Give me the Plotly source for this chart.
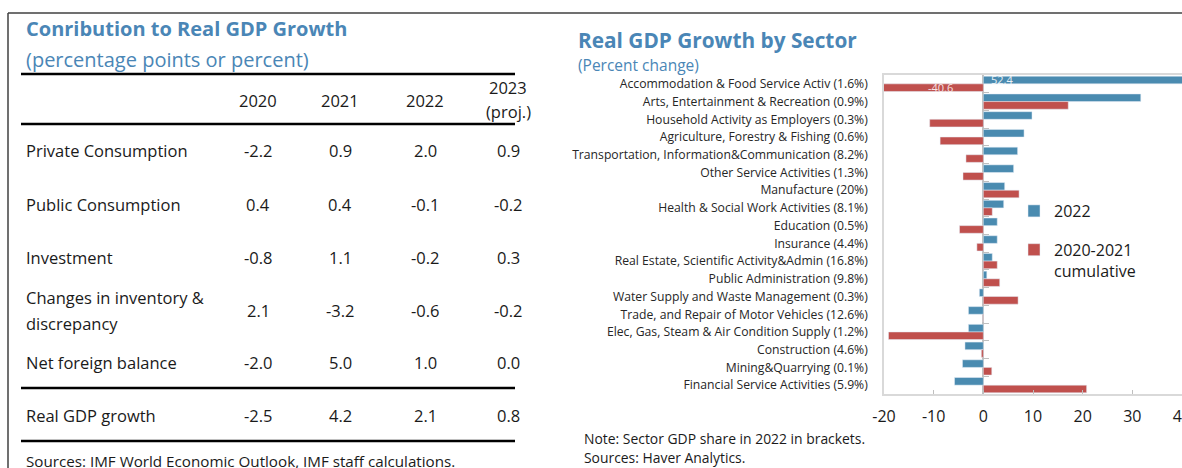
import plotly.graph_objects as go

W, H = 1182, 468

# ---- left table data
table_years = ["2020", "2021", "2022", "2023"]
table_rows = [["Private Consumption"], ["Public Consumption"], ["Investment"],
              ["Changes in inventory &", "discrepancy"], ["Net foreign balance"],
              ["Real GDP growth"]]
val_2020 = [-2.2, 0.4, -0.8, 2.1, -2.0, -2.5]
val_2021 = [0.9, 0.4, 1.1, -3.2, 5.0, 4.2]
val_2022 = [2.0, -0.1, -0.2, -0.6, 1.0, 2.1]
val_2023 = [0.9, -0.2, 0.3, -0.2, 0.0, 0.8]

# ---- right chart data
sectors = [
    "Accommodation & Food Service Activ (1.6%)",
    "Arts, Entertainment & Recreation (0.9%)",
    "Household Activity as Employers (0.3%)",
    "Agriculture, Forestry & Fishing (0.6%)",
    "Transportation, Information&Communication (8.2%)",
    "Other Service Activities (1.3%)",
    "Manufacture (20%)",
    "Health & Social Work Activities (8.1%)",
    "Education (0.5%)",
    "Insurance (4.4%)",
    "Real Estate, Scientific Activity&Admin (16.8%)",
    "Public Administration (9.8%)",
    "Water Supply and Waste Management (0.3%)",
    "Trade, and Repair of Motor Vehicles (12.6%)",
    "Elec, Gas, Steam & Air Condition Supply (1.2%)",
    "Construction (4.6%)",
    "Mining&Quarrying (0.1%)",
    "Financial Service Activities (5.9%)",
]
growth_2022 = [52.4, 31.7, 9.8, 8.2, 6.9, 6.1, 4.3, 4.1, 2.8, 2.8,
               1.8, 0.7, -0.8, -3.0, -3.0, -3.7, -4.2, -5.8]
growth_2020_21 = [-40.6, 17.1, -10.8, -8.7, -3.5, -4.1, 7.2, 1.8, -4.8, -1.3,
                  2.8, 3.3, 7.0, -0.1, -19.1, -0.4, 1.7, 20.8]
x_ticks = [-20, -10, 0, 10, 20, 30, 40]

BLUE = "#4a8bb0"
RED = "#c0504d"
TITLE = "#4a86b6"
FONT = "Open Sans"


def px(x):
    return x / W


def py(y):
    return 1 - y / H


fig = go.Figure()

fig.add_trace(go.Bar(y=sectors, x=growth_2022, orientation="h", name="2022",
                     marker_color=BLUE, legendgroup="a"))
fig.add_trace(go.Bar(y=sectors, x=growth_2020_21, orientation="h",
                     name="2020-2021<br>cumulative", marker_color=RED, legendgroup="b"))
# helper trace so the zero-line tick axis knows the categories
fig.add_trace(go.Scatter(y=sectors, x=[0] * len(sectors), yaxis="y2", mode="markers",
                         marker=dict(opacity=0), showlegend=False, hoverinfo="skip"))

x0 = 884
xdom = [px(x0), 1.0]
zero_pos = xdom[0] + (xdom[1] - xdom[0]) / 3

fig.update_layout(
    width=W, height=H,
    margin=dict(l=0, r=0, t=0, b=0, autoexpand=False),
    paper_bgcolor="white", plot_bgcolor="white",
    font=dict(family=FONT, color="#1a1a1a"),
    barmode="group", bargap=0.14, bargroupgap=0.0,
    xaxis=dict(domain=xdom, range=[-20, 40], tickvals=x_ticks, automargin=False,
               ticktext=[str(t) for t in x_ticks], ticks="inside", ticklen=4,
               tickcolor="#bfbfbf", showgrid=False, showline=True, linecolor="#d9d9d9",
               linewidth=1.5, mirror=True, zeroline=True, zerolinecolor="#bfbfbf",
               zerolinewidth=2, tickfont=dict(size=16, color="#1a1a1a"),
               ticklabelstandoff=7, ticklabeloverflow="allow"),
    yaxis=dict(domain=[py(394), py(75)], range=[17.5, -0.5], showgrid=False,
               automargin=False,
               showline=True, linecolor="#d9d9d9", linewidth=1.5, ticks="",
               tickfont=dict(size=12.2, color="#262626"), ticklabelstandoff=12,
               categoryorder="array", categoryarray=sectors),
    yaxis2=dict(overlaying="y", anchor="free", position=zero_pos, range=[17.5, -0.5],
                automargin=False,
                showgrid=False, showline=False, showticklabels=False, ticks="inside",
                ticklen=5, tickcolor="#bfbfbf", tickson="boundaries",
                categoryorder="array", categoryarray=sectors),
    legend=dict(x=px(1014), y=py(194), xanchor="left", yanchor="top",
                font=dict(size=16, color="#1a1a1a"), traceorder="grouped",
                tracegroupgap=15, valign="top", itemwidth=30, bgcolor="rgba(0,0,0,0)"),
    showlegend=True,
)

ann = []


def txt(x, y, s, size, color="#1a1a1a", anchor="left", bold=False):
    if bold:
        s = "<b>" + s + "</b>"
    ann.append(dict(x=px(x), y=py(y), xref="paper", yref="paper", text=s,
                    showarrow=False, xanchor=anchor, yanchor="middle",
                    font=dict(size=size, color=color, family=FONT)))


# left panel titles
txt(24, 28, "Conribution to Real GDP Growth", 20, TITLE, bold=True)
txt(24, 60, "(percentage points or percent)", 20, TITLE)

# header
col_x = [258, 340, 425, 508]
for i, yr in enumerate(table_years):
    if yr == "2023":
        txt(col_x[i], 87, yr, 16.5, anchor="center")
        txt(col_x[i], 111, "(proj.)", 16.5, anchor="center")
    else:
        txt(col_x[i], 100, yr, 16.5, anchor="center")

row_y = [151, 204, 257, 310, 362, 415]
cols = [val_2020, val_2021, val_2022, val_2023]
for r, lines in enumerate(table_rows):
    if len(lines) == 1:
        txt(24, row_y[r], lines[0], 16.5)
    else:
        txt(24, row_y[r] - 13, lines[0], 16.5)
        txt(24, row_y[r] + 13, lines[1], 16.5)
    for c in range(4):
        txt(col_x[c], row_y[r], f"{cols[c][r]:.1f}", 16.5, anchor="center")

txt(24, 461, "Sources: IMF World Economic Outlook, IMF staff calculations.", 15.2)

# right panel titles
txt(576, 40, "Real GDP Growth by Sector", 20.8, TITLE, bold=True)
txt(576, 65, "(Percent change)", 15.5, TITLE)
txt(582, 438, "Note: Sector GDP share in 2022 in brackets.", 13.9)
txt(582, 457, "Sources: Haver Analytics.", 13.9)

# value labels for the clipped bars
ann.append(dict(x=1.2, y=sectors[0], xref="x", yref="y", text=f"{growth_2022[0]}",
                showarrow=False, xanchor="left", yanchor="middle", yshift=4,
                font=dict(size=11, color="#eaf2f7", family=FONT)))
ann.append(dict(x=-8.6, y=sectors[0], xref="x", yref="y", text=f"{growth_2020_21[0]}",
                showarrow=False, xanchor="center", yanchor="middle", yshift=-4,
                font=dict(size=11, color="#f7e3e3", family=FONT)))

fig.update_layout(annotations=ann)

shapes = []
# outer frame
shapes.append(dict(type="line", xref="paper", yref="paper", x0=px(8), x1=1.0,
                   y0=py(13), y1=py(13), line=dict(color="#404040", width=1.5)))
shapes.append(dict(type="line", xref="paper", yref="paper", x0=px(8), x1=px(8),
                   y0=py(13), y1=0, line=dict(color="#404040", width=1.5)))
# table rules
for yy in [74, 124, 388, 441]:
    shapes.append(dict(type="line", xref="paper", yref="paper", x0=px(21), x1=px(515),
                       y0=py(yy), y1=py(yy), line=dict(color="black", width=2.5)))
fig.update_layout(shapes=shapes)

fig.write_html("out.html", config={"displayModeBar": False},
               post_script="document.body.style.margin='0';"
                           "document.body.style.overflow='hidden';")
